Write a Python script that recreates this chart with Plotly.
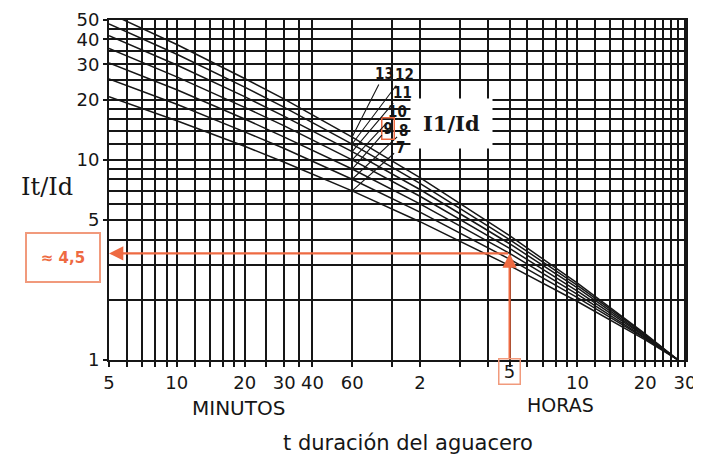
import math
import plotly.graph_objects as go

# ---------------- data ----------------
DURATIONS_MIN = [5, 10, 20, 30, 60, 120, 300, 600, 1200, 1680]
RATIO_LABELS = [7, 8, 9, 10, 11, 12, 13]
CURVE_7 = [20.7, 15.7, 11.7, 9.73, 7.0, 4.91, 2.96, 1.96, 1.26, 1.0]
CURVE_8 = [25.4, 18.95, 13.8, 11.4, 8.0, 5.48, 3.19, 2.05, 1.28, 1.0]
CURVE_9 = [30.5, 22.4, 16.0, 13.0, 9.0, 6.03, 3.41, 2.13, 1.29, 1.0]
CURVE_10 = [36.0, 26.0, 18.3, 14.8, 10.0, 6.58, 3.61, 2.21, 1.31, 1.0]
CURVE_11 = [41.7, 29.8, 20.7, 16.5, 11.0, 7.11, 3.81, 2.29, 1.32, 1.0]
CURVE_12 = [47.8, 33.7, 23.1, 18.3, 12.0, 7.64, 4.00, 2.36, 1.34, 1.0]
CURVE_13 = [54.1, 37.7, 25.5, 20.1, 13.0, 8.15, 4.18, 2.42, 1.35, 1.0]
CURVES = [CURVE_7, CURVE_8, CURVE_9, CURVE_10, CURVE_11, CURVE_12, CURVE_13]

X_TICK_VALS = [5, 10, 20, 30, 40, 60, 120, 300, 600, 1200, 1800]
X_TICK_TEXT = ["5", "10", "20", "30", "40", "60", "2", "", "10", "20", "30"]
X_GRID_MINOR = [6, 7, 8, 9, 12, 14, 16, 18, 25, 35, 90, 180, 240, 360, 420,
                480, 540, 720, 840, 960, 1080, 1320, 1440, 1560, 1680]
Y_TICK_VALS = [1, 5, 10, 20, 30, 40, 50]
Y_GRID_MINOR = [2, 3, 4, 6, 7, 8, 9, 12, 14, 16, 18, 25, 35, 45]

LABEL_AT_MIN = 60          # curves are labelled where they cross 1 hour
MARK_DURATION = 300        # 5 horas
MARK_CURVE = 9
MARK_TEXT = "≈ 4,5"

# ---------------- layout geometry ----------------
# the page body has an 8 px margin, so the figure is drawn from (8, 8)
OFF = 8
PL, PR, PT, PB = 109, 686, 20, 360          # plot frame in window pixels
W, H = 701 - OFF, 461 - OFF
L, T = PL - OFF, PT - OFF
R, B = W - (PR - OFF), H - (PB - OFF)
PW, PH = PR - PL, PB - PT


def px(xp):
    return (xp - PL) / PW


def py(yp):
    return (PB - yp) / PH


INK = "#161616"
ORANGE = "#EE6A42"
ORANGE_BOX = "#F19A7C"
TICK_FONT = "DejaVu Sans, sans-serif"
TEXT_FONT = "DejaVu Sans, sans-serif"
CENTER = dict(xanchor="center", yanchor="middle")

fig = go.Figure()
for k, vals in zip(RATIO_LABELS, CURVES):
    fig.add_trace(go.Scatter(x=DURATIONS_MIN, y=vals, mode="lines",
                             line=dict(color=INK, width=1.5),
                             name=str(k), hoverinfo="skip", showlegend=False))

annotations = []

# white patch with I1/Id
annotations.append(dict(text="<b>I1/Id</b>", xref="paper", yref="paper",
                        x=px(451), y=py(123), showarrow=False, **CENTER,
                        font=dict(family="DejaVu Serif, serif", size=21, color=INK),
                        bgcolor="white", borderpad=12))

# curve labels with leader lines
label_offsets = {13: (32, -63), 12: (52, -69), 11: (50, -59), 10: (45, -48),
                 9: (36, -41), 8: (51, -48), 7: (48, -43)}
x_lab = DURATIONS_MIN.index(LABEL_AT_MIN)
for k, vals in zip(RATIO_LABELS, CURVES):
    ax, ay = label_offsets[k]
    a = dict(text="<b>%d</b>" % k, x=math.log10(LABEL_AT_MIN), y=math.log10(vals[x_lab]),
             xref="x", yref="y", ax=ax, ay=ay, showarrow=True, arrowhead=0,
             arrowwidth=1.1, arrowcolor=INK, standoff=0,
             font=dict(family="DejaVu Sans Condensed, DejaVu Sans, sans-serif",
                       size=15, color=INK))
    if k == MARK_CURVE:
        a.update(bordercolor=ORANGE, borderwidth=1.5, borderpad=1)
    annotations.append(a)

# orange reading arrows
mark_val = CURVES[RATIO_LABELS.index(MARK_CURVE)][DURATIONS_MIN.index(MARK_DURATION)]
annotations.append(dict(text="", x=math.log10(DURATIONS_MIN[0]), y=math.log10(mark_val),
                        ax=math.log10(MARK_DURATION), ay=math.log10(mark_val),
                        xref="x", yref="y", axref="x", ayref="y", showarrow=True,
                        arrowhead=2, arrowsize=1.3, arrowwidth=2.2, arrowcolor=ORANGE,
                        standoff=0, startstandoff=0))
annotations.append(dict(text="", x=math.log10(MARK_DURATION), y=math.log10(mark_val),
                        ax=math.log10(MARK_DURATION), ay=math.log10(Y_TICK_VALS[0]),
                        xref="x", yref="y", axref="x", ayref="y", showarrow=True,
                        arrowhead=2, arrowsize=1.3, arrowwidth=2.2, arrowcolor=ORANGE,
                        standoff=0, startstandoff=0))
annotations.append(dict(text="<b>%s</b>" % MARK_TEXT, xref="paper", yref="paper",
                        x=px(63), y=py(257), showarrow=False, width=68, height=43,
                        **CENTER,
                        font=dict(family=TEXT_FONT, size=15, color=ORANGE),
                        bordercolor=ORANGE_BOX, borderwidth=2, borderpad=2,
                        bgcolor="white"))
# boxed "5" hour tick label
annotations.append(dict(text="5", xref="x", yref="paper", x=math.log10(MARK_DURATION),
                        y=py(371), showarrow=False, **CENTER,
                        width=16, height=20, borderpad=2,
                        font=dict(family=TICK_FONT, size=18, color=INK),
                        bordercolor=ORANGE_BOX, borderwidth=1.5))

# axis texts
annotations.append(dict(text="It/Id", xref="paper", yref="paper", x=px(47), y=py(187),
                        showarrow=False, **CENTER,
                        font=dict(family="DejaVu Serif, serif", size=24, color=INK)))
annotations.append(dict(text="MINUTOS", xref="paper", yref="paper", x=px(238), y=py(408),
                        showarrow=False, **CENTER,
                        font=dict(family=TEXT_FONT, size=20, color=INK)))
annotations.append(dict(text="HORAS", xref="paper", yref="paper", x=px(560), y=py(405),
                        showarrow=False, **CENTER,
                        font=dict(family=TEXT_FONT, size=19, color=INK)))
annotations.append(dict(text="t duración del aguacero", xref="paper", yref="paper",
                        x=px(408), y=py(443), showarrow=False, **CENTER,
                        font=dict(family=TEXT_FONT, size=21, color=INK)))

fig.update_layout(
    width=W, height=H, margin=dict(l=L, r=R, t=T, b=B, autoexpand=False),
    paper_bgcolor="white", plot_bgcolor="white", showlegend=False,
    annotations=annotations,
    xaxis=dict(type="log", range=[math.log10(5), math.log10(1820)], automargin=False,
               tickmode="array", tickvals=X_TICK_VALS, ticktext=X_TICK_TEXT,
               ticks="outside", ticklen=5, tickwidth=1.6, tickcolor=INK,
               showgrid=True, gridcolor=INK, gridwidth=1.6,
               showline=True, linecolor=INK, linewidth=2, mirror=True,
               zeroline=False, ticklabelstandoff=0,
               tickfont=dict(family=TICK_FONT, size=18, color=INK),
               minor=dict(tickvals=X_GRID_MINOR, showgrid=True, gridcolor=INK,
                          gridwidth=1.6, ticks="outside", ticklen=5,
                          tickwidth=1.6, tickcolor=INK)),
    yaxis=dict(type="log", range=[0, math.log10(50)], automargin=False,
               tickmode="array", tickvals=Y_TICK_VALS,
               ticktext=[str(v) for v in Y_TICK_VALS],
               ticks="outside", ticklen=4, tickwidth=1.6, tickcolor=INK,
               showgrid=True, gridcolor=INK, gridwidth=1.6,
               showline=True, linecolor=INK, linewidth=2, mirror=True,
               zeroline=False, ticklabelstandoff=0,
               tickfont=dict(family=TICK_FONT, size=18, color=INK),
               minor=dict(tickvals=Y_GRID_MINOR, showgrid=True, gridcolor=INK,
                          gridwidth=1.6, ticks="")),
)

fig.write_html("out.html")
